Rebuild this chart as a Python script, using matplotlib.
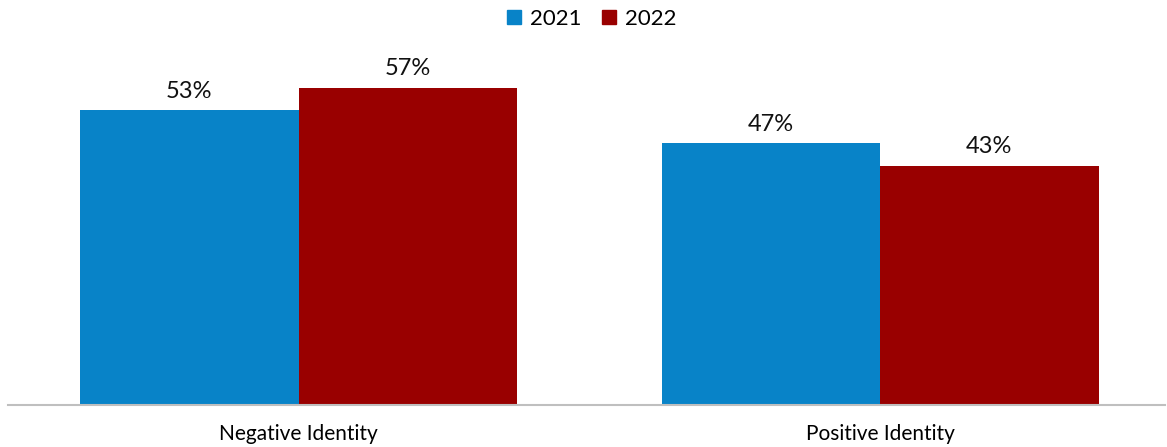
import numpy as np
import matplotlib.pyplot as plt
from matplotlib.patches import Patch

plt.rcParams['font.family'] = ['Lato', 'DejaVu Sans']

categories = ['Negative Identity', 'Positive Identity']
years = ['2021', '2022']
values_2021 = [53, 47]
values_2022 = [57, 43]
colors = ['#0883C8', '#990000']

fig = plt.figure(figsize=(11.67, 4.47), dpi=100)
ax = fig.add_axes([8 / 1167, 42 / 447, 1157 / 1167, 334 / 447])

x = np.arange(len(categories))
w = 0.3757
b1 = ax.bar(x - w / 2, values_2021, w, color=colors[0])
b2 = ax.bar(x + w / 2, values_2022, w, color=colors[1])

for bars in (b1, b2):
    for r in bars:
        ax.annotate(f'{r.get_height():.0f}%', (r.get_x() + r.get_width() / 2, r.get_height()),
                    xytext=(0, 6), textcoords='offset points', ha='center', va='bottom',
                    fontsize=17, color='#111111')

ax.set_xlim(-0.4996, 1.49)
ax.set_ylim(0, 60)
ax.set_xticks(x)
ax.set_xticklabels(categories, fontsize=15)
ax.tick_params(axis='x', length=0, pad=14)
ax.set_yticks([])
for s in ['top', 'right', 'left']:
    ax.spines[s].set_visible(False)
ax.spines['bottom'].set_color('#BFBFBF')
ax.spines['bottom'].set_linewidth(1.5)

handles = [Patch(color=c, label=y) for c, y in zip(colors, years)]
fig.legend(handles=handles, loc='upper center', bbox_to_anchor=(0.507, 1.025), ncol=2,
           frameon=False, fontsize=16, handlelength=0.63, handleheight=0.63,
           handletextpad=0.4, columnspacing=0.95)

fig.savefig('out.png', dpi=100)
